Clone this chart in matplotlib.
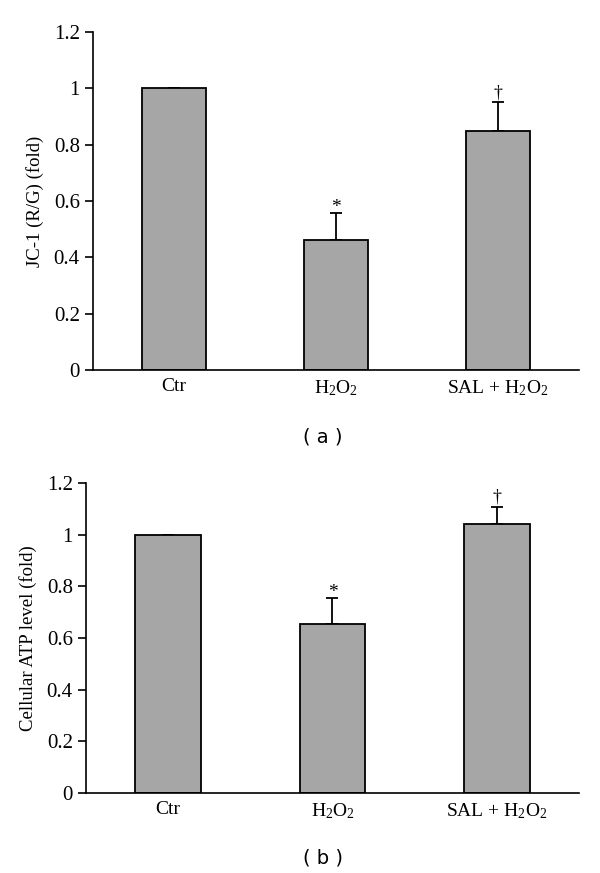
import numpy as np
import matplotlib
matplotlib.use('Agg')
import matplotlib.pyplot as plt

plt.rcParams['font.family'] = ['Liberation Serif', 'DejaVu Serif']
plt.rcParams['mathtext.fontset'] = 'custom'
plt.rcParams['mathtext.rm'] = 'Liberation Serif'
plt.rcParams['mathtext.default'] = 'regular'

# data
groups = ['Ctr', 'H$_2$O$_2$', 'SAL + H$_2$O$_2$']
jc1_mean = [1.0, 0.46, 0.85]
jc1_err = [0.0, 0.097, 0.10]
atp_mean = [1.0, 0.655, 1.043]
atp_err = [0.0, 0.10, 0.065]
marks = ['', '*', '\u2020']
yticks = [0, 0.2, 0.4, 0.6, 0.8, 1, 1.2]
ytick_labels = ['0', '0.2', '0.4', '0.6', '0.8', '1', '1.2']

fig = plt.figure(figsize=(6.0, 8.73), dpi=100)
ax1 = fig.add_axes([0.155, 0.5762, 0.81, 0.3871])
ax2 = fig.add_axes([0.1433, 0.0916, 0.8217, 0.3551])


def bar_panel(ax, means, errs, ylabel):
    x = np.arange(len(means))
    ax.bar(x, means, width=0.4, color='#a6a6a6', edgecolor='black',
           linewidth=1.3, zorder=2)
    lo = [0] * len(errs)
    ax.errorbar(x, means, yerr=[lo, errs], fmt='none', ecolor='black',
                elinewidth=1.3, capsize=4.5, capthick=1.3, zorder=1)
    for xi, m, e, s in zip(x, means, errs, marks):
        if s == '*':
            ax.annotate(s, (xi, m + e), xytext=(0, -2), textcoords='offset points',
                        ha='center', va='bottom', fontsize=14)
        elif s:
            ax.annotate(s, (xi, m + e), xytext=(0, 1), textcoords='offset points',
                        ha='center', va='bottom', fontsize=13)
    ax.set_xlim(-0.5, 2.5)
    ax.set_ylim(0, 1.2)
    ax.set_yticks(yticks)
    ax.set_yticklabels(ytick_labels)
    ax.set_xticks(x)
    ax.set_xticklabels(groups)
    ax.tick_params(axis='x', length=0, pad=6, labelsize=14)
    ax.tick_params(axis='y', direction='out', length=6, width=1.2, labelsize=15)
    ax.spines['top'].set_visible(False)
    ax.spines['right'].set_visible(False)
    ax.spines['left'].set_linewidth(1.2)
    ax.spines['bottom'].set_linewidth(1.2)
    ax.set_ylabel(ylabel, fontsize=13.5, labelpad=7)


bar_panel(ax1, jc1_mean, jc1_err, 'JC-1 (R/G) (fold)')
bar_panel(ax2, atp_mean, atp_err, 'Cellular ATP level (fold)')

fig.text(0.538, 1 - 437 / 873, '( a )', ha='center', va='center',
         fontsize=14, family='DejaVu Sans')
fig.text(0.538, 1 - 858 / 873, '( b )', ha='center', va='center',
         fontsize=14, family='DejaVu Sans')

plt.savefig('out.png', dpi=100)
